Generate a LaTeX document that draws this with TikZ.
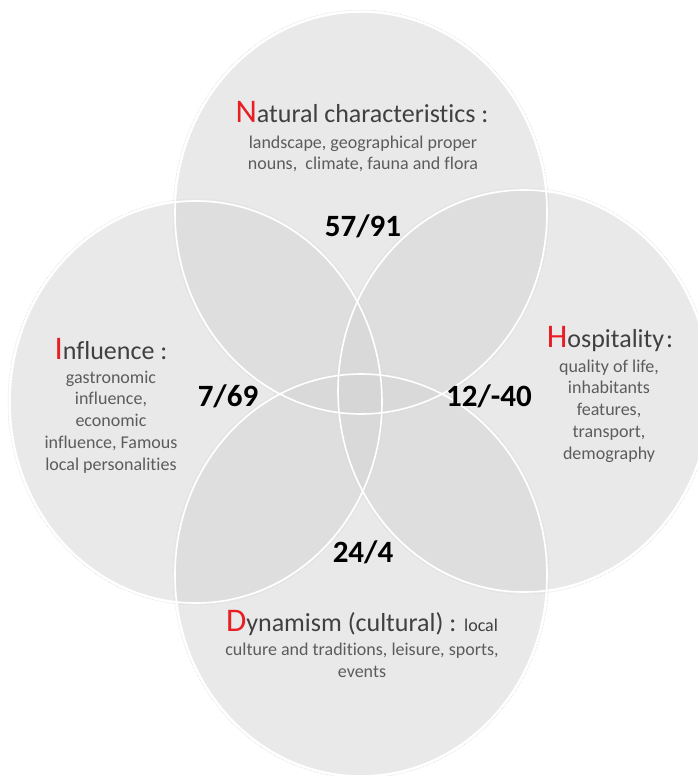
\documentclass[tikz,border=0pt]{standalone}
\usepackage{fontspec}
\setmainfont[Ligatures=NoCommon]{Carlito}
\usetikzlibrary{shapes.geometric}
\definecolor{venn}{RGB}{213,213,213}
\definecolor{ttl}{RGB}{64,64,64}
\definecolor{sub}{RGB}{92,92,92}
\definecolor{ini}{RGB}{232,30,36}
\newcommand{\ini}[1]{{\fontsize{33}{33}\selectfont\color{ini}#1}}
\begin{document}
\begin{tikzpicture}[x=1pt,y=-1pt,
  setfill/.style={ellipse, minimum width=372pt, minimum height=402pt, inner sep=0pt, fill=venn, fill opacity=0.5},
  setrim/.style={ellipse, minimum width=372pt, minimum height=402pt, inner sep=0pt, draw=white, line width=1.6pt},
  sethalo/.style={ellipse, minimum width=376pt, minimum height=406pt, inner sep=0pt, draw=black!18, line width=0.5pt, densely dotted},
  ttlbox/.style={font=\fontsize{26}{30}\selectfont, text=ttl, inner sep=0pt},
  descbox/.style={font=\fontsize{18}{21.8}\selectfont, text=sub, align=center, inner sep=0pt},
  numbox/.style={font=\bfseries\fontsize{31}{33}\selectfont, text=black, inner sep=0pt}]
\useasboundingbox (0,0) rectangle (697,776);
\fill[white] (0,0) rectangle (697,776);
% halos
\node[sethalo] (hN) at (361,213) {};
\node[sethalo] (hI) at (196,402) {};
\node[sethalo] (hH) at (524,391) {};
\node[sethalo] (hD) at (361,575) {};
% fills
\node[setfill] (fN) at (361,213) {};
\node[setfill] (fI) at (196,402) {};
\node[setfill] (fH) at (524,391) {};
\node[setfill] (fD) at (361,575) {};
% rims
\node[setrim] (rN) at (361,213) {};
\node[setrim] (rI) at (196,402) {};
\node[setrim] (rH) at (524,391) {};
\node[setrim] (rD) at (361,575) {};
% texts
\node[ttlbox] (tN) at (362,112) {\ini{N}atural characteristics :};
\node[descbox] (dN) at (363,154) {landscape, geographical proper\\nouns,\ \ climate, fauna and flora};
\node[ttlbox] (tI) at (111,349) {\ini{I}nfluence :};
\node[descbox] (dI) at (111,422) {gastronomic\\influence,\\economic\\influence, Famous\\local personalities};
\node[ttlbox] (tH) at (610,339) {\ini{H}ospitality\hspace{2pt}:};
\node[descbox] (dH) at (609,411) {quality of life,\\inhabitants\\features,\\transport,\\demography};
\node[ttlbox] (tD) at (362,623) {\ini{D}ynamism (cultural) : {\fontsize{18}{20}\selectfont local}};
\node[descbox] (dD) at (362,660) {culture and traditions, leisure, sports,\\events};
% numbers
\node[numbox] (nNH) at (363,226) {57/91};
\node[numbox] (nNI) at (228,396) {7/69};
\node[numbox] (nHD) at (489,396) {12/-40};
\node[numbox] (nDI) at (363,552) {24/4};
\end{tikzpicture}
\end{document}
